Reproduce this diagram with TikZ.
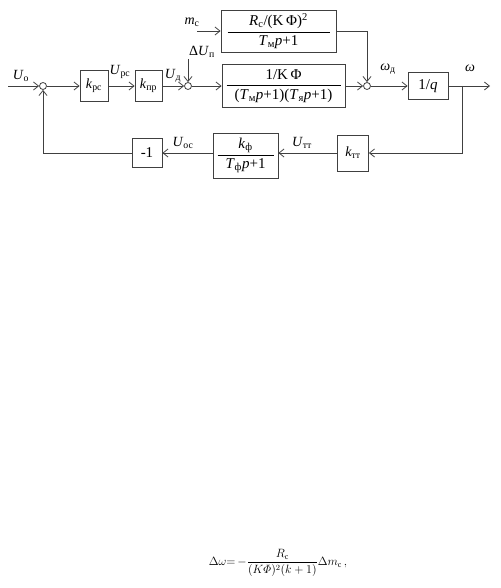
\documentclass[tikz,border=0pt]{standalone}
\usepackage{amsmath}
\usepackage{fontspec}
\setmainfont{Liberation Serif}
\usetikzlibrary{arrows.meta}
\newcommand{\sbs}[2]{\textit{#1}\textsubscript{#2}}
\newcommand{\frc}[3]{$\dfrac{\makebox[#1]{#2}}{\mbox{#3}}$}
\tikzset{
  blk/.style={draw=black!75, line width=0.8pt, inner sep=0pt},
  sumpt/.style={draw=black!75, line width=0.8pt, circle, fill=white, minimum size=7pt, inner sep=0pt},
  lbl/.style={inner sep=0pt, font=\fontsize{14}{16}\selectfont},
  frac/.style={font=\fontsize{15}{17}\selectfont}
}

\begin{document}
\begin{tikzpicture}[x=1pt, y=-1pt, font=\fontsize{14}{16}\selectfont,
    line width=0.8pt, >={Straight Barb[length=5pt,width=8pt]}, draw=black!75]
    \useasboundingbox (0,0) rectangle (500,588);

    % forward path
    \node[sumpt] (s1) at (43,86) {};
    \node[blk, minimum width=28pt, minimum height=31pt] (kpc) at (94,86) {\sbs{k}{рс}};
    \node[blk, minimum width=27pt, minimum height=31pt] (kpr) at (148.5,86) {\sbs{k}{пр}};
    \node[sumpt] (s2) at (188,86) {};
    \node[blk, frac, minimum width=123pt, minimum height=43pt] (wm) at (283.5,86)
        {\frc{114pt}{1/K\,Φ}{(\sbs{T}{м}\textit{p}+1)(\sbs{T}{я}\textit{p}+1)}};
    \node[blk, frac, minimum width=115pt, minimum height=42pt] (wc) at (278.5,31)
        {\frc{102pt}{\textit{R}\textsubscript{с}/(K\,Φ)\textsuperscript{2}}{\sbs{T}{м}\textit{p}+1}};
    \node[sumpt] (s3) at (367,86) {};
    \node[blk, frac, minimum width=40pt, minimum height=27pt] (iq) at (428,86) {1/\textit{q}};

    % feedback path
    \node[blk, minimum width=31pt, minimum height=36pt] (ktt) at (353,153) {\sbs{k}{тт}};
    \node[blk, frac, minimum width=65pt, minimum height=45pt] (kf) at (245.5,155.5)
        {\frc{56pt}{\sbs{k}{ф}}{\sbs{T}{ф}\textit{p}+1}};
    \node[blk, frac, minimum width=30pt, minimum height=29pt] (neg) at (147,153) {-1};

    \coordinate (in) at (8,86);
    \coordinate (du) at (188,59);
    \coordinate (mc) at (197,31);
    \coordinate (br) at (462,86);
    \coordinate (out) at (490,86);

    \draw[->] (in) -- (s1);
    \draw[->] (s1) -- (kpc);
    \draw[->] (kpc) -- (kpr);
    \draw[->] (kpr) -- (s2);
    \draw[->] (du) -- (s2);
    \draw[->] (s2) -- (wm);
    \draw[->] (mc) -- (wc);
    \draw[->] (wm) -- (s3);
    \draw[->] (wc.east) -| (s3);
    \draw[->] (s3) -- (iq);
    \draw[->] (iq) -- (out);
    \draw[->] (br) |- (ktt);
    \draw[->] (ktt) -- (kf.east |- ktt);
    \draw[->] (kf.west |- neg) -- (neg);
    \draw[->] (neg) -| (s1);

    % signal names
    \node[lbl] (lu0) at (21,76) {\sbs{U}{о}};
    \node[lbl] (lupc) at (120,72) {\sbs{U}{рс}};
    \node[lbl] (lud) at (173,76) {\sbs{U}{д}};
    \node[lbl] (ldu) at (202,52) {Δ\sbs{U}{п}};
    \node[lbl] (lmc) at (192,22) {\sbs{m}{с}};
    \node[lbl] (lwd) at (388,69) {\textit{ω}\textsubscript{д}};
    \node[lbl] (lw) at (470,68) {\textit{ω}};
    \node[lbl] (lutt) at (302,143) {\sbs{U}{тт}};
    \node[lbl] (luoc) at (183,143) {\sbs{U}{ос}};

    \node[lbl, font=\fontsize{12}{14}\selectfont] (eq) at (278,563)
        {$\Delta\omega{=}\,{-}\dfrac{R_{\text{с}}}{(K\varPhi)^2(k+1)}\Delta m_{\text{с}}\,,$};
\end{tikzpicture}
\end{document}
